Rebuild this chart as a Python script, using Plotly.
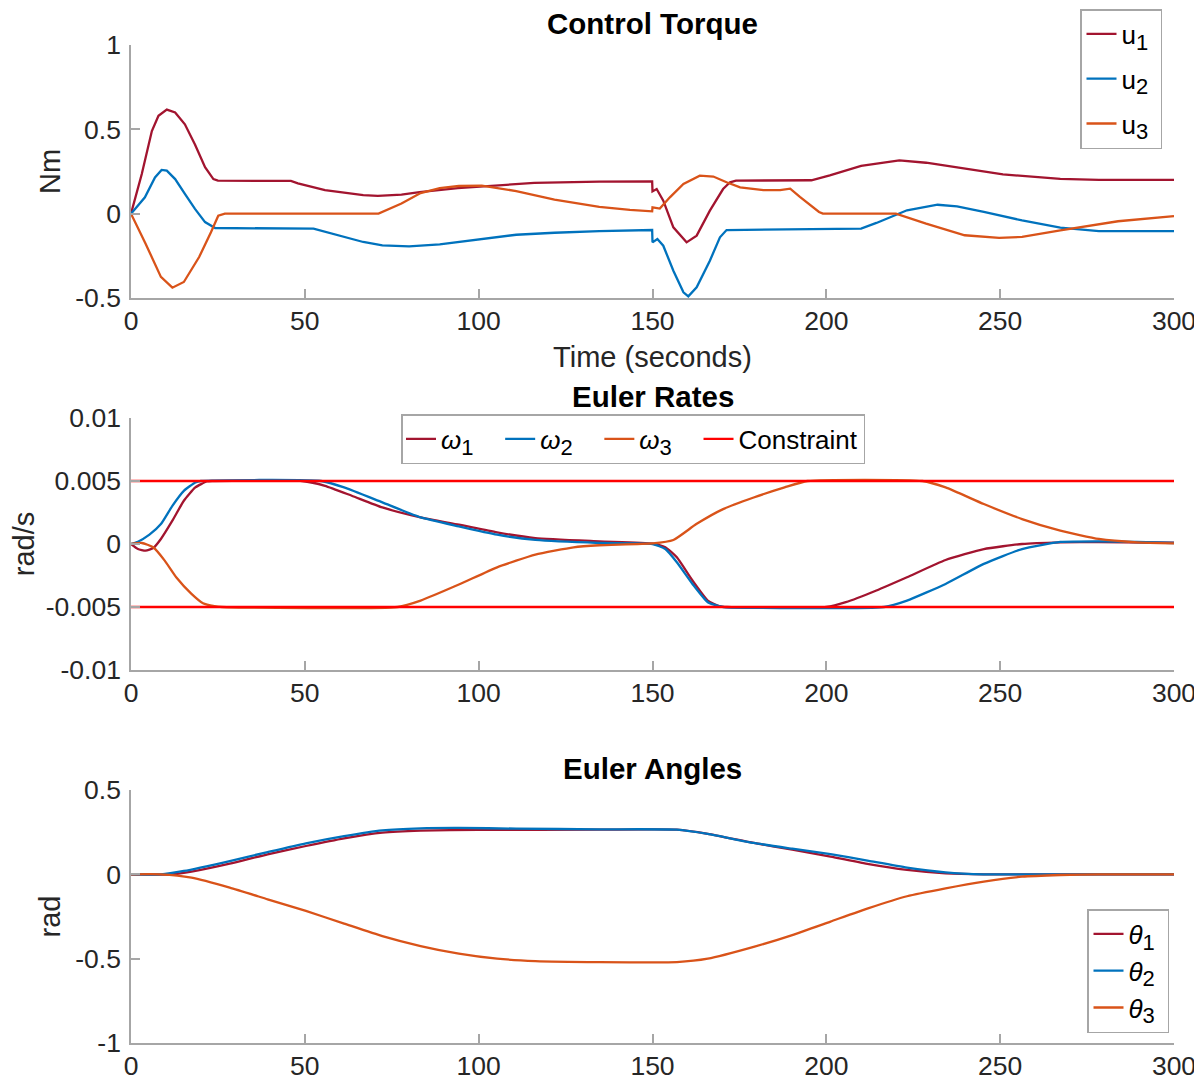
import plotly.graph_objects as go

# ---------------- data ----------------
time_ticks = [0, 50, 100, 150, 200, 250, 300]
time_ticktext = ["0", "50", "100", "150", "200", "250", "300"]

torque_ticks = [-0.5, 0, 0.5, 1]
torque_ticktext = ["-0.5", "0", "0.5", "1"]
rate_ticks = [-0.01, -0.005, 0, 0.005, 0.01]
rate_ticktext = ["-0.01", "-0.005", "0", "0.005", "0.01"]
angle_ticks = [-1, -0.5, 0, 0.5]
angle_ticktext = ["-1", "-0.5", "0", "0.5"]

u1_t = [0, 3.1, 6, 7.9, 10.3, 12.7, 15.5, 18.4, 21.3, 23.7, 25, 46, 48, 55.8, 66.8, 71, 77.8, 83, 94, 105,
        116, 134.7, 149.9, 150, 151.2, 153.1, 156, 159.8, 162.7, 166.5, 170.3, 172.3, 174, 195.7, 201, 210,
        221, 228.7, 239.8, 250.8, 267.3, 278.4, 300]
u1_v = [0, 0.235, 0.49, 0.58, 0.617, 0.60, 0.53, 0.41, 0.275, 0.205, 0.196, 0.194, 0.18, 0.14, 0.11, 0.105,
        0.113, 0.128, 0.152, 0.168, 0.182, 0.19, 0.191, 0.132, 0.146, 0.077, -0.081, -0.17, -0.13, 0.018,
        0.146, 0.186, 0.196, 0.198, 0.227, 0.283, 0.316, 0.302, 0.267, 0.233, 0.206, 0.2, 0.2]

u2_t = [0, 4, 6.9, 8.8, 10.3, 12.7, 15.5, 18.4, 21.3, 24.2, 52.5, 58, 66.8, 72.3, 80, 88.8, 99.8, 110.8,
        121.8, 134.7, 149.9, 150, 151.4, 153.1, 156, 158.9, 160.3, 162.7, 166.5, 169.4, 171.3, 210, 214.4,
        223.2, 232, 237.6, 245.3, 256.3, 267.3, 278.4, 300]
u2_v = [0, 0.097, 0.215, 0.259, 0.255, 0.205, 0.117, 0.028, -0.05, -0.085, -0.089, -0.119, -0.168, -0.188,
        -0.194, -0.182, -0.154, -0.125, -0.113, -0.103, -0.097, -0.17, -0.15, -0.19, -0.338, -0.466, -0.49,
        -0.437, -0.279, -0.14, -0.097, -0.089, -0.055, 0.02, 0.053, 0.043, 0.01, -0.04, -0.083, -0.103,
        -0.103]

u3_t = [0, 4.2, 8.6, 11.9, 15.2, 19.6, 23, 25.1, 27, 71.2, 77.8, 83.3, 88.8, 94.3, 100.9, 110.8, 121.8,
        134.7, 143.5, 149.9, 150, 152.1, 155, 158.9, 163.6, 167.5, 171.3, 175.2, 181.9, 186.7, 189.6, 192.4,
        197.9, 199, 220, 228.7, 239.8, 249.7, 256.3, 267.3, 283.9, 300]
u3_v = [0, -0.178, -0.375, -0.439, -0.405, -0.257, -0.11, -0.012, 0, 0, 0.06, 0.122, 0.152, 0.164, 0.166,
        0.134, 0.083, 0.04, 0.022, 0.014, 0.037, 0.03, 0.097, 0.176, 0.225, 0.22, 0.186, 0.156, 0.14, 0.14,
        0.148, 0.099, 0.01, 0, 0, -0.059, -0.128, -0.144, -0.138, -0.099, -0.045, -0.015]

w1_t = [0, 2, 4.2, 6.4, 8.6, 11.9, 15.2, 18.5, 21.8, 23.4, 49.2, 55.8, 63.5, 72.3, 83.3, 94.3, 105.3, 116.3,
        134.7, 150, 153.7, 157, 161.5, 165.9, 169.2, 171.4, 200, 205.6, 214.4, 223.2, 234.3, 245.3, 256.3,
        267.3, 278.4, 300]
w1_v = [0, -0.0004, -0.00053, -0.00032, 0.0004, 0.00185, 0.00343, 0.00449, 0.00496, 0.005, 0.005,
        0.00462, 0.00383, 0.0029, 0.00211, 0.00153, 0.00092, 0.00047, 0.00021, 0.00003, -0.00026,
        -0.00106, -0.0029, -0.00449, -0.00493, -0.005, -0.005, -0.00462, -0.00369, -0.00264, -0.00127,
        -0.0004, 0, 0.00013, 0.00016, 0.0001]

w2_t = [0, 2, 5.3, 8.6, 11.9, 15.2, 18.5, 20.1, 54.7, 61.3, 72.3, 83.3, 94.3, 105.3, 116.3, 134.7, 150,
        153.7, 157, 161.5, 165.9, 169.2, 170.3, 216.6, 223.2, 234.3, 245.3, 256.3, 267.3, 278.4, 289.4, 300]
w2_v = [0, 0.00018, 0.00074, 0.00158, 0.00303, 0.00422, 0.00488, 0.005, 0.005, 0.00449, 0.0033, 0.00211,
        0.0014, 0.00074, 0.00032, 0.00008, 0, -0.0004, -0.00145, -0.00317, -0.00462, -0.00493, -0.005,
        -0.005, -0.00449, -0.00317, -0.00158, -0.0004, 0.00016, 0.00021, 0.00016, 0.00008]

w3_t = [0, 3.1, 6.4, 9.7, 13, 17.4, 20.7, 24, 26.2, 76.7, 83.3, 94.3, 105.3, 116.3, 127.3, 134.7, 150, 156,
        162.6, 170.3, 179.1, 188, 194.6, 227.6, 234.3, 245.3, 256.3, 267.3, 278.4, 289.4, 300]
w3_v = [0, 0.00008, -0.00026, -0.00132, -0.00264, -0.00396, -0.0047, -0.00493, -0.005, -0.005, -0.00449,
        -0.00322, -0.00185, -0.00084, -0.00026, -0.0001, 0.00005, 0.00032, 0.00158, 0.00277, 0.00369,
        0.00449, 0.005, 0.005, 0.00449, 0.00317, 0.00198, 0.00106, 0.0004, 0.00013, 0.00005]

constraint_t = [0, 300]
constraint_limit = 0.005

th1_t = [0, 11.9, 17.4, 28.4, 39.3, 50.3, 61.3, 72.3, 83.3, 99.8, 134.7, 157, 165.9, 179.1, 190.2, 201.2,
         212.2, 223.2, 234.3, 245.3, 256.3, 300]
th1_v = [0, 0, 0.016, 0.063, 0.119, 0.168, 0.213, 0.247, 0.259, 0.263, 0.265, 0.265, 0.24, 0.186, 0.146,
         0.105, 0.06, 0.026, 0.006, 0, 0, 0]

th2_t = [0, 8.6, 15.2, 28.4, 39.3, 50.3, 61.3, 72.3, 83.3, 94.3, 110.8, 134.7, 157, 165.9, 179.1, 190.2,
         201.2, 212.2, 223.2, 234.3, 245.3, 256.3, 300]
th2_v = [0, 0, 0.02, 0.079, 0.132, 0.184, 0.227, 0.261, 0.273, 0.275, 0.271, 0.267, 0.265, 0.24, 0.186,
         0.152, 0.12, 0.08, 0.04, 0.012, 0, 0, 0]

th3_t = [0, 8.6, 17.4, 28.4, 39.3, 50.3, 61.3, 72.3, 83.3, 94.3, 105.3, 116.3, 134.7, 157, 165.9, 179.1,
         190.2, 201.2, 212.2, 223.2, 234.3, 245.3, 256.3, 267.3, 278.4, 300]
th3_v = [0, 0, -0.02, -0.079, -0.148, -0.217, -0.292, -0.366, -0.425, -0.47, -0.5, -0.514, -0.52, -0.52,
         -0.5, -0.43, -0.36, -0.28, -0.2, -0.13, -0.083, -0.043, -0.014, -0.004, 0, 0]

# ---------------- style ----------------
FONT = "Liberation Sans, Arial, Helvetica, sans-serif"
C1, C2, C3, CR = "#A2142F", "#0072BD", "#D95319", "#FF0000"
AX = "#a6a6a6"
TXT = "#262626"
LW = 2.3
NB = "\u00a0"

fig = go.Figure()


def sub(base, n, pad=0):
    return base + '<sub><span style="font-size:22px">%s</span></sub>' % n + NB * pad


def add(x, y, name, color, ax, legend, group, smooth=False):
    line = dict(color=color, width=LW)
    if smooth:
        line.update(shape="spline", smoothing=0.5)
    fig.add_trace(go.Scatter(x=x, y=y, mode="lines", name=name, line=line,
                             xaxis="x" + ax, yaxis="y" + ax, legend=legend,
                             legendgroup=group, hoverinfo="skip"))


add(u1_t, u1_v, sub("u", 1, 1), C1, "", "legend", "a")
add(u2_t, u2_v, sub("u", 2, 1), C2, "", "legend", "b")
add(u3_t, u3_v, sub("u", 3, 1), C3, "", "legend", "c")

add(w1_t, w1_v, sub("<i>ω</i>", 1, 3), C1, "2", "legend2", "d", True)
add(w2_t, w2_v, sub("<i>ω</i>", 2, 3), C2, "2", "legend2", "e", True)
add(w3_t, w3_v, sub("<i>ω</i>", 3, 3), C3, "2", "legend2", "f", True)
cx = constraint_t + [None] + constraint_t
cy = [constraint_limit] * 2 + [None] + [-constraint_limit] * 2
add(cx, cy, "Constraint", CR, "2", "legend2", "g")

add(th1_t, th1_v, sub("<i>θ</i>", 1, 1), C1, "3", "legend3", "h", True)
add(th2_t, th2_v, sub("<i>θ</i>", 2, 1), C2, "3", "legend3", "i", True)
add(th3_t, th3_v, sub("<i>θ</i>", 3, 1), C3, "3", "legend3", "j", True)

# page is drawn with an 8px body offset: aim positions at screen pixels minus OFF
OFF = 8
W, H = 1202 - OFF, 1080 - OFF
ML = 131 - OFF
MR = W - (1174 - OFF)
MT = 2
MB = H - (1043 - OFF)
PW = W - ML - MR
PH = H - MT - MB


def px_x(x):
    return (x - OFF - ML) / PW


def px_y(y):
    return (H - MB - (y - OFF)) / PH


def dom(top_px, bot_px):
    return [px_y(bot_px), px_y(top_px)]


d1 = dom(45, 298)
d2 = dom(418, 670)
d3 = dom(790, 1043)

common = dict(showline=True, linecolor=AX, linewidth=1.5, ticks="inside", ticklen=9,
              tickcolor=AX, tickwidth=1.5, showgrid=False, zeroline=False, mirror=False,
              automargin=False, tickfont=dict(family=FONT, size=26.5, color=TXT))

xcommon = dict(common, range=[0, 300], tickvals=time_ticks, ticktext=time_ticktext,
               ticklabelstandoff=-2)
ycommon = dict(common, ticklabelstandoff=3)

fig.update_layout(
    width=W, height=H,
    margin=dict(l=ML, r=MR, t=MT, b=MB, autoexpand=False),
    paper_bgcolor="white", plot_bgcolor="white",
    font=dict(family=FONT, color=TXT),
    xaxis=dict(xcommon, domain=[0, 1], anchor="y",
               title=dict(text="Time (seconds)", font=dict(size=29, color=TXT), standoff=12)),
    yaxis=dict(ycommon, domain=d1, anchor="x", range=[-0.5, 1], tickvals=torque_ticks,
               ticktext=torque_ticktext,
               title=dict(text="Nm", font=dict(size=29, color=TXT), standoff=6)),
    xaxis2=dict(xcommon, domain=[0, 1], anchor="y2"),
    yaxis2=dict(ycommon, domain=d2, anchor="x2", range=[-0.01, 0.01], tickvals=rate_ticks,
                ticktext=rate_ticktext,
                title=dict(text="rad/s", font=dict(size=29, color=TXT), standoff=5)),
    xaxis3=dict(xcommon, domain=[0, 1], anchor="y3"),
    yaxis3=dict(ycommon, domain=d3, anchor="x3", range=[-1, 0.5], tickvals=angle_ticks,
                ticktext=angle_ticktext,
                title=dict(text="rad", font=dict(size=29, color=TXT), standoff=6)),
    legend=dict(x=px_x(1162), xanchor="right", y=px_y(9), yanchor="top",
                bgcolor="white", bordercolor=AX, borderwidth=1.5,
                font=dict(family=FONT, size=26, color="black"), tracegroupgap=8),
    legend2=dict(x=px_x(633), xanchor="center", y=px_y(414), yanchor="top", orientation="h",
                 bgcolor="white", bordercolor=AX, borderwidth=1.5,
                 font=dict(family=FONT, size=26, color="black")),
    legend3=dict(x=px_x(1169), xanchor="right", y=px_y(1033), yanchor="bottom",
                 bgcolor="white", bordercolor=AX, borderwidth=1.5,
                 font=dict(family=FONT, size=26, color="black"), tracegroupgap=0),
    showlegend=True,
)

titles = [("Control Torque", d1[1]), ("Euler Rates", d2[1]), ("Euler Angles", d3[1])]
for txt, ytop in titles:
    fig.add_annotation(text="<b>%s</b>" % txt, xref="paper", yref="paper", x=0.5, y=ytop,
                       xanchor="center", yanchor="bottom", yshift=3, showarrow=False,
                       font=dict(family=FONT, size=29.5, color="black"))

fig.write_html("out.html")
